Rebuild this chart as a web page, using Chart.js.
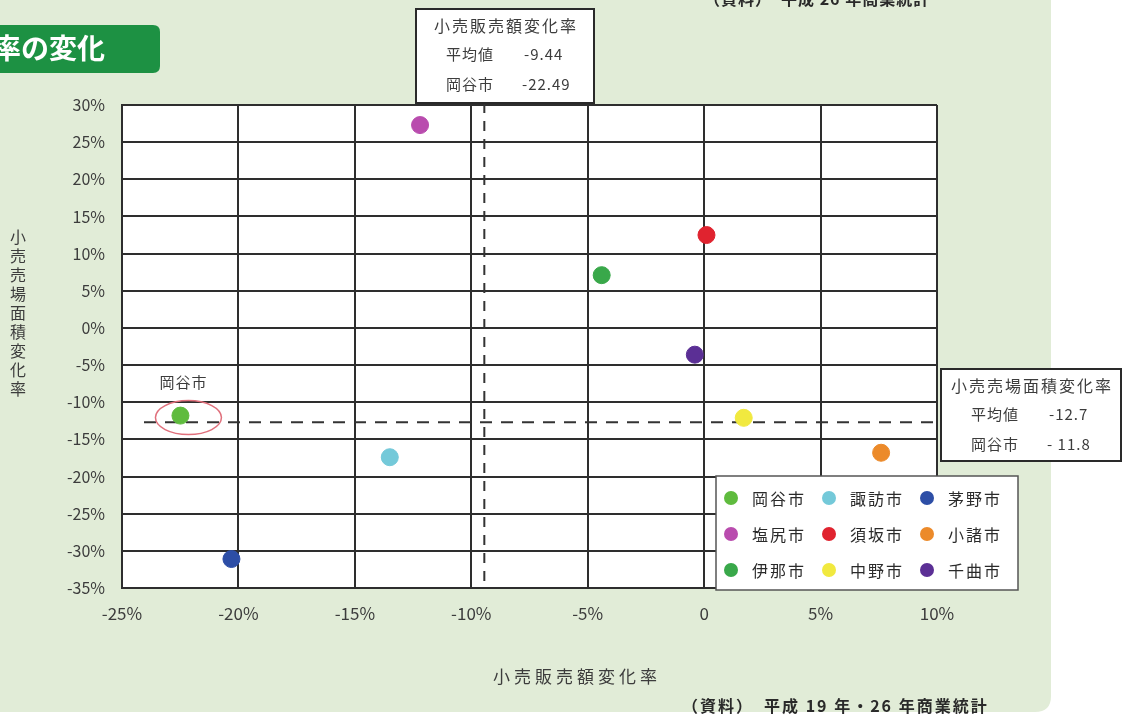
<!DOCTYPE html>
<html>
<head>
<meta charset="utf-8">
<script src="https://cdn.jsdelivr.net/npm/chart.js@4"></script>
<style>
  html, body { margin: 0; padding: 0; background: #ffffff; }
  canvas { display: block; }
</style>
</head>
<body>
<canvas id="chart" width="1139" height="720"></canvas>
<script>
// 市ごとの変化率（％）
const cities = ['岡谷市', '諏訪市', '茅野市', '塩尻市', '須坂市', '小諸市', '伊那市', '中野市', '千曲市'];
const salesChange = [-22.49, -13.5, -20.3, -12.2, 0.1, 7.6, -4.4, 1.7, -0.4];
const floorChange = [-11.8, -17.4, -31.1, 27.3, 12.5, -16.8, 7.1, -12.1, -3.6];
const cityColors = ['#5fbb3e', '#74c9d9', '#2d4ea6', '#b94cae', '#e0232f', '#ec8a2a', '#39a84a', '#f1e93f', '#5b2f95'];

// 平均値
const salesMean = -9.44;
const floorMean = -12.7;

const xTicks = [-25, -20, -15, -10, -5, 0, 5, 10];
const yTicks = [30, 25, 20, 15, 10, 5, 0, -5, -10, -15, -20, -25, -30, -35];

const FONT = '"Noto Sans CJK JP", "Noto Sans", sans-serif';
const PANEL = '#e1ecd7';
const INK = '#3c3c3c';

function roundRect(ctx, x, y, w, h, r) {
    ctx.beginPath();
    ctx.moveTo(x + r, y);
    ctx.lineTo(x + w - r, y);
    ctx.quadraticCurveTo(x + w, y, x + w, y + r);
    ctx.lineTo(x + w, y + h - r);
    ctx.quadraticCurveTo(x + w, y + h, x + w - r, y + h);
    ctx.lineTo(x + r, y + h);
    ctx.quadraticCurveTo(x, y + h, x, y + h - r);
    ctx.lineTo(x, y + r);
    ctx.quadraticCurveTo(x, y, x + r, y);
    ctx.closePath();
}

function infoBox(ctx, x, y, w, h, lines) {
    ctx.save();
    ctx.fillStyle = '#ffffff';
    ctx.fillRect(x, y, w, h);
    ctx.strokeStyle = '#2a2a2a';
    ctx.lineWidth = 2;
    ctx.strokeRect(x, y, w, h);
    ctx.fillStyle = INK;
    ctx.textBaseline = 'middle';
    ctx.font = '16px ' + FONT;
    ctx.letterSpacing = '2px';
    ctx.textAlign = 'center';
    ctx.fillText(lines[0], x + w / 2 + 1, y + 17);
    ctx.textAlign = 'left';
    ctx.font = '15px ' + FONT;
    ctx.letterSpacing = '1px';
    ctx.fillText(lines[1][0], x + 30, y + 45);
    ctx.fillText(lines[1][1], x + 108, y + 45);
    ctx.fillText(lines[2][0], x + 30, y + 75);
    ctx.fillText(lines[2][1], x + 106, y + 75);
    ctx.restore();
}

const decorPlugin = {
    id: 'decor',
    beforeDraw(chart) {
        const ctx = chart.ctx;
        const a = chart.chartArea;
        ctx.save();
        ctx.fillStyle = '#ffffff';
        ctx.fillRect(0, 0, chart.width, chart.height);
        ctx.fillStyle = PANEL;
        roundRect(ctx, -30, -30, 1081, 742, 16);
        ctx.fill();
        ctx.fillStyle = '#ffffff';
        ctx.fillRect(a.left, a.top, a.right - a.left, a.bottom - a.top);
        ctx.restore();
    },
    beforeDatasetsDraw(chart) {
        const ctx = chart.ctx;
        const a = chart.chartArea;
        const mx = chart.scales.x.getPixelForValue(salesMean);
        const my = chart.scales.y.getPixelForValue(floorMean);
        ctx.save();
        ctx.strokeStyle = '#333333';
        ctx.lineWidth = 2;
        ctx.setLineDash([12, 9]);
        ctx.beginPath();
        ctx.moveTo(a.left + 22, my);
        ctx.lineTo(a.right + 4, my);
        ctx.stroke();
        ctx.setLineDash([10, 8]);
        ctx.beginPath();
        ctx.moveTo(mx, a.top - 2);
        ctx.lineTo(mx, a.bottom);
        ctx.stroke();
        ctx.restore();
    },
    afterDraw(chart) {
        const ctx = chart.ctx;
        ctx.save();

        // 見出し
        ctx.fillStyle = '#1d9143';
        roundRect(ctx, -20, 25, 180, 48, 7);
        ctx.fill();
        ctx.fillStyle = '#ffffff';
        ctx.font = 'bold 28px ' + FONT;
        ctx.textAlign = 'right';
        ctx.textBaseline = 'middle';
        ctx.fillText('率の変化', 105, 48);

        // 資料（上）
        ctx.fillStyle = '#2a2a2a';
        ctx.font = 'bold 16px ' + FONT;
        ctx.letterSpacing = '1px';
        ctx.textAlign = 'left';
        ctx.fillText('（資料）　平成 26 年商業統計', 704, -1);
        ctx.letterSpacing = '0px';

        // 平均値ボックス
        infoBox(ctx, 416, 9, 178, 94, ['小売販売額変化率', ['平均値', '-9.44'], ['岡谷市', '-22.49']]);
        infoBox(ctx, 941, 369, 180, 92, ['小売売場面積変化率', ['平均値', '-12.7'], ['岡谷市', '- 11.8']]);

        // 岡谷市の強調
        const ox = chart.scales.x.getPixelForValue(salesChange[0]);
        const oy = chart.scales.y.getPixelForValue(floorChange[0]);
        ctx.strokeStyle = '#e0707c';
        ctx.lineWidth = 1.5;
        ctx.beginPath();
        ctx.ellipse(ox + 8, oy + 2, 33, 17, 0, 0, Math.PI * 2);
        ctx.stroke();
        ctx.fillStyle = INK;
        ctx.font = '15px ' + FONT;
        ctx.letterSpacing = '1px';
        ctx.textAlign = 'center';
        ctx.fillText('岡谷市', ox + 3, oy - 33);

        // 凡例
        const lx = 716, ly = 476, lw = 302, lh = 114;
        ctx.fillStyle = '#ffffff';
        ctx.fillRect(lx, ly, lw, lh);
        ctx.strokeStyle = '#555555';
        ctx.lineWidth = 1.5;
        ctx.strokeRect(lx, ly, lw, lh);
        ctx.font = '16px ' + FONT;
        ctx.letterSpacing = '2px';
        ctx.textAlign = 'left';
        chart.data.datasets.forEach((ds, i) => {
            const col = i % 3, row = Math.floor(i / 3);
            const cx = lx + 15 + col * 98;
            const cy = ly + 22 + row * 36;
            ctx.fillStyle = ds.backgroundColor;
            ctx.beginPath();
            ctx.arc(cx, cy, 7, 0, Math.PI * 2);
            ctx.fill();
            ctx.fillStyle = '#2a2a2a';
            ctx.fillText(ds.label, cx + 21, cy + 1);
        });

        // 軸タイトル
        ctx.fillStyle = INK;
        ctx.font = '17px ' + FONT;
        ctx.letterSpacing = '4px';
        ctx.textAlign = 'center';
        ctx.fillText('小売販売額変化率', 577, 677);
        ctx.letterSpacing = '0px';
        const yTitle = '小売売場面積変化率';
        ctx.font = '16px ' + FONT;
        for (let i = 0; i < yTitle.length; i++) {
            ctx.fillText(yTitle[i], 18, 237 + i * 19);
        }

        // 資料（下）
        ctx.fillStyle = '#2a2a2a';
        ctx.font = 'bold 16px ' + FONT;
        ctx.letterSpacing = '2px';
        ctx.textAlign = 'left';
        ctx.fillText('（資料）　平成 19 年・26 年商業統計', 682, 706);

        ctx.restore();
    }
};

new Chart(document.querySelector('#chart').getContext('2d'), {
    type: 'scatter',
    data: {
        datasets: cities.map((city, i) => ({
            label: city,
            data: [{ x: salesChange[i], y: floorChange[i] }],
            backgroundColor: cityColors[i],
            borderColor: cityColors[i],
            pointRadius: 8.5,
            pointBorderWidth: 1
        }))
    },
    options: {
        responsive: false,
        animation: false,
        layout: { padding: { left: 0, top: 105, right: 202, bottom: 0 } },
        plugins: {
            legend: { display: false },
            tooltip: { enabled: false }
        },
        scales: {
            x: {
                type: 'linear',
                min: -25,
                max: 10,
                afterBuildTicks: scale => { scale.ticks = xTicks.map(v => ({ value: v })); },
                afterFit: scale => { scale.height = 132; },
                grid: { color: '#2e2e2e', lineWidth: 2, drawTicks: false },
                border: { color: '#2e2e2e', width: 2 },
                ticks: {
                    padding: 15,
                    color: INK,
                    font: { family: FONT, size: 17 },
                    callback: v => v === 0 ? '0' : v + '%'
                }
            },
            y: {
                type: 'linear',
                min: -35,
                max: 30,
                afterBuildTicks: scale => { scale.ticks = yTicks.map(v => ({ value: v })); },
                afterFit: scale => { scale.width = 122; },
                grid: { color: '#2e2e2e', lineWidth: 2, drawTicks: false },
                border: { color: '#2e2e2e', width: 2 },
                ticks: {
                    padding: 17,
                    color: INK,
                    font: { family: FONT, size: 16 },
                    callback: v => v + '%'
                }
            }
        }
    },
    plugins: [decorPlugin]
});
</script>
</body>
</html>
